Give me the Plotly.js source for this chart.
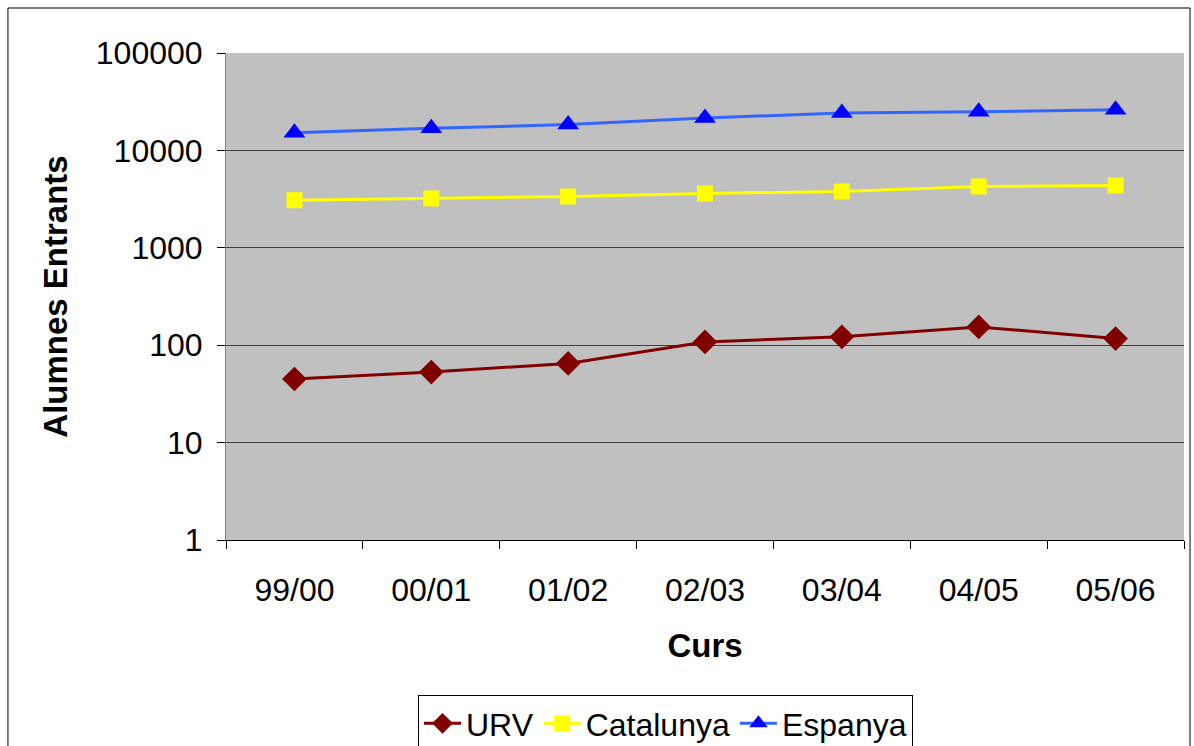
<!DOCTYPE html>
<html>
<head>
<meta charset="utf-8">
<script src="https://cdn.plot.ly/plotly-3.0.1.min.js"></script>
<style>
html,body{margin:0;padding:0;background:#fff;}
#chart{width:1194px;height:746px;}
</style>
</head>
<body>
<div id="chart"></div>
<script>
const cursos = ["99/00", "00/01", "01/02", "02/03", "03/04", "04/05", "05/06"];
const urv = [45, 53, 65, 108, 122, 154, 117];
const catalunya = [3080, 3210, 3360, 3610, 3790, 4260, 4360];
const espanya = [15200, 16900, 18400, 21500, 24200, 24900, 26200];
const yTickVals = [1, 10, 100, 1000, 10000, 100000];
const yTickText = ["1", "10", "100", "1000", "10000", "100000"];

const font = "Liberation Sans, Arial, sans-serif";

const traces = [
  {x: cursos, y: urv, name: "URV", type: "scatter", mode: "lines+markers",
   line: {color: "#800000", width: 3},
   marker: {symbol: "diamond", size: 19, color: "#800000"}},
  {x: cursos, y: catalunya, name: "Catalunya", type: "scatter", mode: "lines+markers",
   line: {color: "#FFFF00", width: 3},
   marker: {symbol: "square", size: 16, color: "#FFFF00"}},
  {x: cursos, y: espanya, name: "Espanya", type: "scatter", mode: "lines+markers",
   line: {color: "#3366FF", width: 3},
   marker: {symbol: "triangle-up", size: 19, color: "#0000FF"}}
];

const layout = {
  width: 1194, height: 746,
  margin: {l: 226, r: 10, t: 53, b: 206, autoexpand: false},
  paper_bgcolor: "#ffffff",
  plot_bgcolor: "#C0C0C0",
  font: {family: font, size: 32, color: "#000"},
  showlegend: true,
  legend: {orientation: "h", xref: "container", yref: "container",
           x: 418 / 1194, xanchor: "left", y: 1 - 695 / 746, yanchor: "top",
           bgcolor: "#ffffff", bordercolor: "#000", borderwidth: 1,
           font: {family: font, size: 32, color: "#000"},
           itemwidth: 37, tracegroupgap: 0},
  xaxis: {
    type: "category", range: [-0.5, 6.5], automargin: false,
    title: {text: "<b>Curs</b>", font: {family: font, size: 33}, standoff: 26},
    showline: true, linecolor: "#000", linewidth: 1,
    ticks: "outside", tickson: "boundaries", ticklen: 8, tickcolor: "#000",
    ticklabelstandoff: 22,
    showgrid: false, zeroline: false,
    tickfont: {family: font, size: 32}
  },
  yaxis: {
    type: "log", range: [0, 5], automargin: false,
    tickvals: yTickVals, ticktext: yTickText,
    title: {text: "<b>Alumnes Entrants</b>", font: {family: font, size: 33}, standoff: 18},
    showline: true, linecolor: "#808080", linewidth: 1,
    ticks: "outside", ticklen: 8, tickcolor: "#000",
    ticklabelstandoff: 8,
    showgrid: true, gridcolor: "#404040", gridwidth: 1,
    zeroline: false,
    tickfont: {family: font, size: 32}
  },
  shapes: [
    {type: "rect", xref: "paper", yref: "paper",
     x0: -0.2276, x1: 1.0063, y0: -0.45, y1: 1.0924,
     line: {color: "#000", width: 1}, fillcolor: "rgba(0,0,0,0)", layer: "below"}
  ]
};

Plotly.newPlot("chart", traces, layout, {displayModeBar: false, staticPlot: true});
</script>
</body>
</html>
